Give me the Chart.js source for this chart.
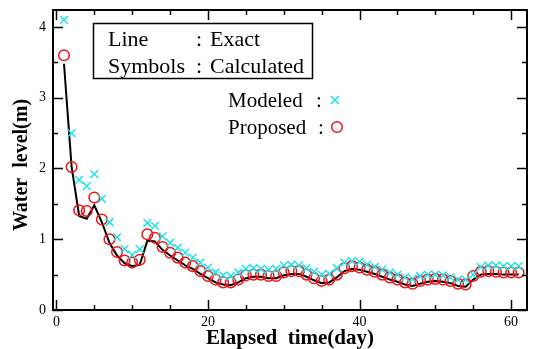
<!DOCTYPE html>
<html>
<head>
<meta charset="utf-8">
<script src="https://cdn.jsdelivr.net/npm/chart.js@4.4.1/dist/chart.umd.min.js"></script>
<style>
  html, body { margin: 0; padding: 0; background: #fff; }
  #wrap { width: 534px; height: 349px; }
</style>
</head>
<body>
<div id="wrap"><canvas id="levelChart" width="534" height="349"></canvas></div>
<script>
// Water level data, one value per day
var days = [];
for (var d = 1; d <= 61; d++) days.push(d);

var exact = [3.48, 2.03, 1.33, 1.29, 1.48, 1.24, 0.95, 0.77, 0.66, 0.62,
  0.64, 0.98, 0.97, 0.85, 0.77, 0.70, 0.63, 0.58, 0.51, 0.45,
  0.39, 0.36, 0.35, 0.39, 0.45, 0.47, 0.47, 0.45, 0.45, 0.49,
  0.51, 0.51, 0.47, 0.42, 0.38, 0.39, 0.46, 0.55, 0.58, 0.57,
  0.54, 0.51, 0.47, 0.43, 0.40, 0.36, 0.34, 0.37, 0.40, 0.41,
  0.40, 0.38, 0.34, 0.33, 0.43, 0.50, 0.51, 0.51, 0.50, 0.50,
  0.50];

var modeled = [4.10, 2.50, 1.84, 1.75, 1.92, 1.57, 1.24, 1.03, 0.86, 0.78,
  0.86, 1.23, 1.19, 1.04, 0.95, 0.88, 0.81, 0.74, 0.67, 0.60,
  0.53, 0.49, 0.48, 0.53, 0.58, 0.59, 0.58, 0.57, 0.58, 0.63,
  0.64, 0.63, 0.59, 0.54, 0.50, 0.51, 0.59, 0.67, 0.69, 0.68,
  0.64, 0.61, 0.57, 0.53, 0.50, 0.46, 0.44, 0.48, 0.50, 0.50,
  0.49, 0.46, 0.43, 0.43, 0.50, 0.61, 0.63, 0.63, 0.62, 0.62,
  0.62];

var proposed = [3.60, 2.02, 1.41, 1.40, 1.59, 1.28, 1.00, 0.82, 0.70, 0.67,
  0.71, 1.07, 1.02, 0.89, 0.81, 0.74, 0.67, 0.62, 0.55, 0.48,
  0.43, 0.39, 0.39, 0.43, 0.49, 0.50, 0.50, 0.48, 0.48, 0.53,
  0.55, 0.55, 0.50, 0.45, 0.41, 0.43, 0.50, 0.59, 0.62, 0.60,
  0.57, 0.54, 0.50, 0.46, 0.43, 0.39, 0.37, 0.41, 0.43, 0.44,
  0.43, 0.41, 0.37, 0.36, 0.48, 0.54, 0.55, 0.54, 0.53, 0.53,
  0.53];

var xTicks = [0, 20, 40, 60];
var yTicks = [0, 1, 2, 3, 4];

var serif = '"Liberation Serif", "Times New Roman", serif';
var cyan = '#1ee3ea';
var red = '#f01414';

function toPoints(vals) {
  return days.map(function (x, i) { return { x: x, y: vals[i] }; });
}

// frame with inward ticks on all four sides
var frameTicks = {
  id: 'frameTicks',
  afterDatasetsDraw: function (chart) {
    var ctx = chart.ctx, a = chart.chartArea;
    var xs = chart.scales.x, ys = chart.scales.y;
    ctx.save();
    ctx.strokeStyle = '#000';
    ctx.lineWidth = 1.5;
    ctx.beginPath();
    for (var v = 0; v <= xs.max; v += 5) {
      var px = Math.round(xs.getPixelForValue(v)) + 0.5;
      var len = v % 20 === 0 ? 10 : 5;
      ctx.moveTo(px, a.bottom); ctx.lineTo(px, a.bottom - len);
      ctx.moveTo(px, a.top); ctx.lineTo(px, a.top + len);
    }
    for (var w = 0; w <= ys.max; w += 0.5) {
      var py = Math.round(ys.getPixelForValue(w)) + 0.5;
      var l2 = w % 1 === 0 ? 10 : 5;
      ctx.moveTo(a.left, py); ctx.lineTo(a.left + l2, py);
      ctx.moveTo(a.right, py); ctx.lineTo(a.right - l2, py);
    }
    ctx.stroke();
    ctx.lineWidth = 2;
    ctx.strokeRect(a.left, a.top, a.right - a.left, a.bottom - a.top);
    ctx.restore();
  }
};

// boxed note and symbol legend
var notes = {
  id: 'notes',
  afterDraw: function (chart) {
    var ctx = chart.ctx;
    ctx.save();
    ctx.strokeStyle = '#000';
    ctx.lineWidth = 1.5;
    ctx.strokeRect(93.5, 23.5, 219, 55);
    ctx.fillStyle = '#000';
    ctx.font = '22px ' + serif;
    ctx.textBaseline = 'alphabetic';
    ctx.textAlign = 'left';
    ctx.fillText('Line', 108, 46);
    ctx.fillText(':', 196, 46);
    ctx.fillText('Exact', 210, 46);
    ctx.fillText('Symbols', 108, 73);
    ctx.fillText(':', 196, 73);
    ctx.fillText('Calculated', 210, 73);

    ctx.font = '21px ' + serif;
    ctx.fillText('Modeled', 228, 107);
    ctx.fillText(':', 316, 107);
    ctx.fillText('Proposed', 228, 134);
    ctx.fillText(':', 318, 134);

    ctx.strokeStyle = cyan;
    ctx.lineWidth = 1.5;
    ctx.beginPath();
    ctx.moveTo(331, 96); ctx.lineTo(339, 104);
    ctx.moveTo(339, 96); ctx.lineTo(331, 104);
    ctx.stroke();
    ctx.strokeStyle = red;
    ctx.beginPath();
    ctx.arc(337, 127, 5.3, 0, Math.PI * 2);
    ctx.stroke();
    ctx.restore();
  }
};

new Chart(document.getElementById('levelChart'), {
  type: 'scatter',
  data: {
    datasets: [{
      label: 'Exact',
      type: 'line',
      data: toPoints(exact),
      borderColor: '#000',
      borderWidth: 2,
      pointRadius: 0,
      tension: 0,
      fill: false,
      order: 3
    }, {
      label: 'Proposed',
      data: toPoints(proposed),
      pointStyle: 'circle',
      pointRadius: 5.3,
      borderColor: red,
      backgroundColor: 'rgba(0,0,0,0)',
      pointBorderWidth: 1.5,
      order: 2
    }, {
      label: 'Modeled',
      data: toPoints(modeled),
      pointStyle: 'crossRot',
      pointRadius: 5.5,
      borderColor: cyan,
      pointBorderWidth: 1.5,
      order: 1
    }]
  },
  options: {
    responsive: false,
    animation: false,
    events: [],
    layout: { padding: { top: 10, right: 1, left: 0, bottom: 0 } },
    plugins: { legend: { display: false }, tooltip: { enabled: false } },
    scales: {
      x: {
        type: 'linear',
        min: -0.45,
        max: 62.1,
        grid: { display: false, drawTicks: false },
        border: { display: false },
        ticks: {
          stepSize: 20,
          includeBounds: false,
          padding: 4,
          color: '#000',
          font: { family: serif, size: 14 },
          callback: function (v) { return xTicks.indexOf(v) >= 0 ? v : ''; }
        },
        title: {
          display: true,
          text: 'Elapsed  time(day)',
          color: '#000',
          font: { family: serif, size: 21, weight: 'bold', lineHeight: 1 },
          padding: { top: 0, bottom: 0 }
        },
        afterFit: function (s) { s.height = 39; s.paddingLeft = 0; s.paddingRight = 0; }
      },
      y: {
        type: 'linear',
        min: 0,
        max: 4.24,
        grid: { display: false, drawTicks: false },
        border: { display: false },
        ticks: {
          stepSize: 1,
          includeBounds: false,
          padding: 7,
          color: '#000',
          font: { family: serif, size: 14 },
          callback: function (v) { return yTicks.indexOf(v) >= 0 ? v : ''; }
        },
        title: {
          display: true,
          text: 'Water  level(m)  ',
          color: '#000',
          font: { family: serif, size: 20, weight: 'bold', lineHeight: 1.2 },
          padding: { top: 10, bottom: 0 }
        },
        afterFit: function (s) { s.width = 53; s.paddingTop = 0; s.paddingBottom = 0; }
      }
    }
  },
  plugins: [frameTicks, notes]
});
</script>
</body>
</html>
